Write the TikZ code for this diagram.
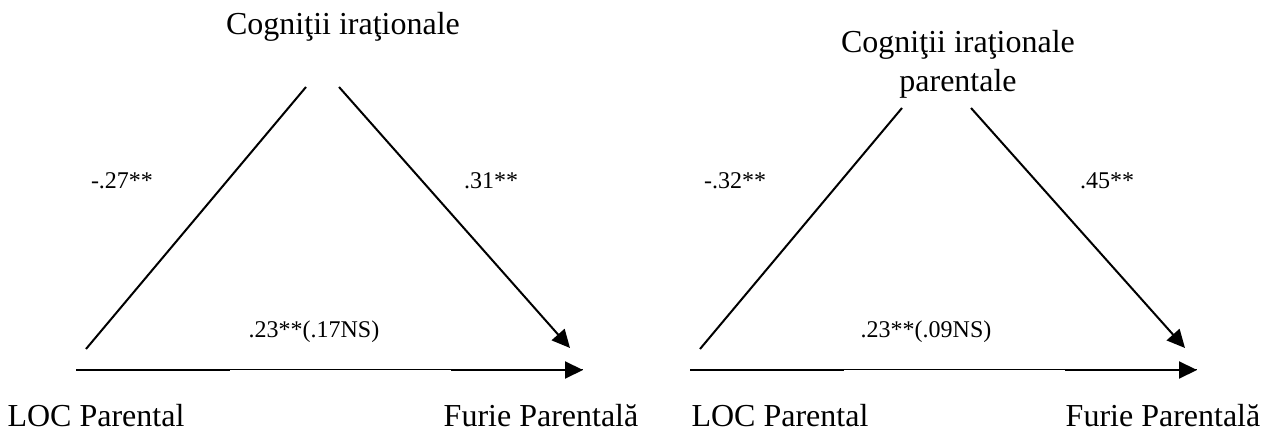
\documentclass[tikz,border=0pt]{standalone}
\usepackage{fontspec}
\setmainfont{Liberation Serif}
\usetikzlibrary{arrows.meta, positioning}

\begin{document}
\begin{tikzpicture}[
    x=0.5pt, y=-0.5pt,
    var/.style={font=\fontsize{16}{19.5}\selectfont, anchor=base, inner sep=0pt, align=center},
    coef/.style={font=\fontsize{12}{14}\selectfont, anchor=base, inner sep=0pt},
    link/.style={line width=1pt},
    arrow/.style={-{Triangle[length=9pt, width=8.5pt]}, line width=1pt},
    thinlink/.style={line width=0.5pt}
]
\useasboundingbox (0,0) rectangle (1273,431);

% left model
\node[var] (cog1) at (343,35) {Cogniţii iraţionale};
\node[var] (loc1) at (96,427) {LOC Parental};
\node[var] (fur1) at (541,427) {Furie Parentală};

\coordinate (l1a) at (86,349);
\coordinate (l1b) at (306,87);
\coordinate (r1a) at (339,87);
\coordinate (r1b) at (570,348);
\coordinate (h1a) at (76,370);
\coordinate (h1m) at (230,370);
\coordinate (h1n) at (451,370);
\coordinate (h1b) at (583,370);

\draw[link] (l1a) -- (l1b);
\draw[arrow] (r1a) -- (r1b);
\draw[thinlink] (h1a) -- (h1b);
\draw[link] (h1a) -- (h1m);
\draw[arrow] (h1n) -- (h1b);

\node[coef] (a1) at (122,189) {-.27**};
\node[coef] (b1) at (491,189) {.31**};
\node[coef] (c1) at (314,338) {.23**(.17NS)};

% right model
\node[var] (cog2) at (958,92) {Cogniţii iraţionale\\parentale};
\node[var] (loc2) at (780,427) {LOC Parental};
\node[var] (fur2) at (1163,427) {Furie Parentală};

\coordinate (l2a) at (700,349);
\coordinate (l2b) at (902,108);
\coordinate (r2a) at (971,108);
\coordinate (r2b) at (1185,348);
\coordinate (h2a) at (690,370);
\coordinate (h2m) at (844,370);
\coordinate (h2n) at (1065,370);
\coordinate (h2b) at (1197,370);

\draw[link] (l2a) -- (l2b);
\draw[arrow] (r2a) -- (r2b);
\draw[thinlink] (h2a) -- (h2b);
\draw[link] (h2a) -- (h2m);
\draw[arrow] (h2n) -- (h2b);

\node[coef] (a2) at (735,189) {-.32**};
\node[coef] (b2) at (1107,189) {.45**};
\node[coef] (c2) at (926,338) {.23**(.09NS)};

\end{tikzpicture}
\end{document}
